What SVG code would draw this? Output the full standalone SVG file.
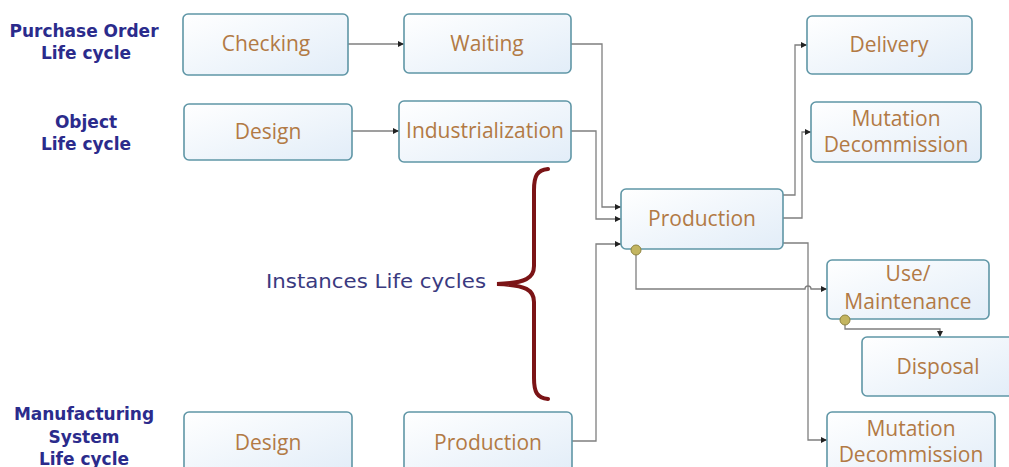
<svg xmlns="http://www.w3.org/2000/svg" width="1009" height="467" viewBox="0 0 1009 467">
<style>
.box{fill:url(#g);stroke:#5f96a6;stroke-width:1.6}
.nt{font-family:"Open Sans","Liberation Sans",sans-serif;font-size:21px;fill:#b27a45;text-anchor:middle}
.lb{font-family:"DejaVu Sans","Liberation Sans",sans-serif;font-size:17px;font-weight:bold;fill:#2b2b8c;text-anchor:middle}
.c{fill:none;stroke:#7f7f7f;stroke-width:1.3;marker-end:url(#a)}
.dot{fill:#c3b560;stroke:#8f8440;stroke-width:1}
</style>
<defs>
<linearGradient id="g" x1="0" y1="0" x2="1" y2="1">
<stop offset="0" stop-color="#ffffff"/>
<stop offset="1" stop-color="#e2edf8"/>
</linearGradient>
<marker id="a" viewBox="0 0 10 10" refX="10" refY="5" markerWidth="6" markerHeight="6" orient="auto" markerUnits="userSpaceOnUse">
<path d="M0,0 L10,5 L0,10 z" fill="#222"/>
</marker>
</defs>
<rect width="1009" height="467" fill="#ffffff"/>

<g id="labels">
<text class="lb" x="84" y="37">Purchase Order</text>
<text class="lb" x="86" y="59">Life cycle</text>
<text class="lb" x="86" y="128">Object</text>
<text class="lb" x="86" y="150">Life cycle</text>
<text class="lb" x="84" y="420">Manufacturing</text>
<text class="lb" x="84" y="443">System</text>
<text class="lb" x="84" y="465">Life cycle</text>
</g>

<g id="connectors">
<path class="c" d="M348,44 H404"/>
<path class="c" d="M352,131 H399"/>
<path class="c" d="M572,441 H596 V244 H621"/>
<path class="c" d="M571,44 H602 V207 H621"/>
<path class="c" d="M571,131 H596 V219 H621"/>
<path class="c" d="M783,195 H795 V45 H807"/>
<path class="c" d="M783,218 H802 V132 H811"/>
<path class="c" d="M783,243 H808 V440 H827"/>
<path class="c" d="M636,250 V289 H805 A3,3 0 0 1 811,289 H827"/>
<path class="c" d="M845,320 V329 H940 V337"/>
</g>

<g id="brace">
<path d="M548,169 C537,170 534,176 534,190 V266 C534,278 526,283 497,284 C526,285 534,290 534,302 V378 C534,392 537,398 548,399" fill="none" stroke="#7b1416" stroke-width="4" stroke-linecap="round"/>
<text x="266" y="288" font-family="DejaVu Sans,'Liberation Sans',sans-serif" font-size="20" fill="#3a3a80" textLength="220" lengthAdjust="spacingAndGlyphs">Instances Life cycles</text>
</g>

<g id="n-checking"><rect class="box" x="183" y="14" width="165" height="61" rx="5"/><text class="nt" x="266" y="51">Checking</text></g>
<g id="n-waiting"><rect class="box" x="404" y="14" width="167" height="59" rx="5"/><text class="nt" x="487" y="51">Waiting</text></g>
<g id="n-design1"><rect class="box" x="184" y="104" width="168" height="56" rx="5"/><text class="nt" x="268" y="139">Design</text></g>
<g id="n-industrialization"><rect class="box" x="399" y="101" width="172" height="61" rx="5"/><text class="nt" x="485" y="138">Industrialization</text></g>
<g id="n-production"><rect class="box" x="621" y="189" width="162" height="60" rx="5"/><text class="nt" x="702" y="226">Production</text></g>
<g id="n-delivery"><rect class="box" x="807" y="16" width="165" height="58" rx="5"/><text class="nt" x="889" y="52">Delivery</text></g>
<g id="n-mutation1"><rect class="box" x="811" y="102" width="170" height="60" rx="5"/><text class="nt" x="896" y="126">Mutation</text><text class="nt" x="896" y="152">Decommission</text></g>
<g id="n-use"><rect class="box" x="827" y="260" width="162" height="59" rx="5"/><text class="nt" x="908" y="281">Use/</text><text class="nt" x="908" y="309">Maintenance</text></g>
<g id="n-disposal"><rect class="box" x="862" y="337" width="152" height="59" rx="5"/><text class="nt" x="938" y="374">Disposal</text></g>
<g id="n-mutation2"><rect class="box" x="827" y="412" width="168" height="62" rx="5"/><text class="nt" x="911" y="436">Mutation</text><text class="nt" x="911" y="462">Decommission</text></g>
<g id="n-design2"><rect class="box" x="184" y="412" width="168" height="62" rx="5"/><text class="nt" x="268" y="450">Design</text></g>
<g id="n-production2"><rect class="box" x="404" y="412" width="168" height="62" rx="5"/><text class="nt" x="488" y="450">Production</text></g>

<g id="dots">
<circle class="dot" cx="636" cy="250" r="5"/>
<circle class="dot" cx="845" cy="320" r="5"/>
</g>
</svg>
